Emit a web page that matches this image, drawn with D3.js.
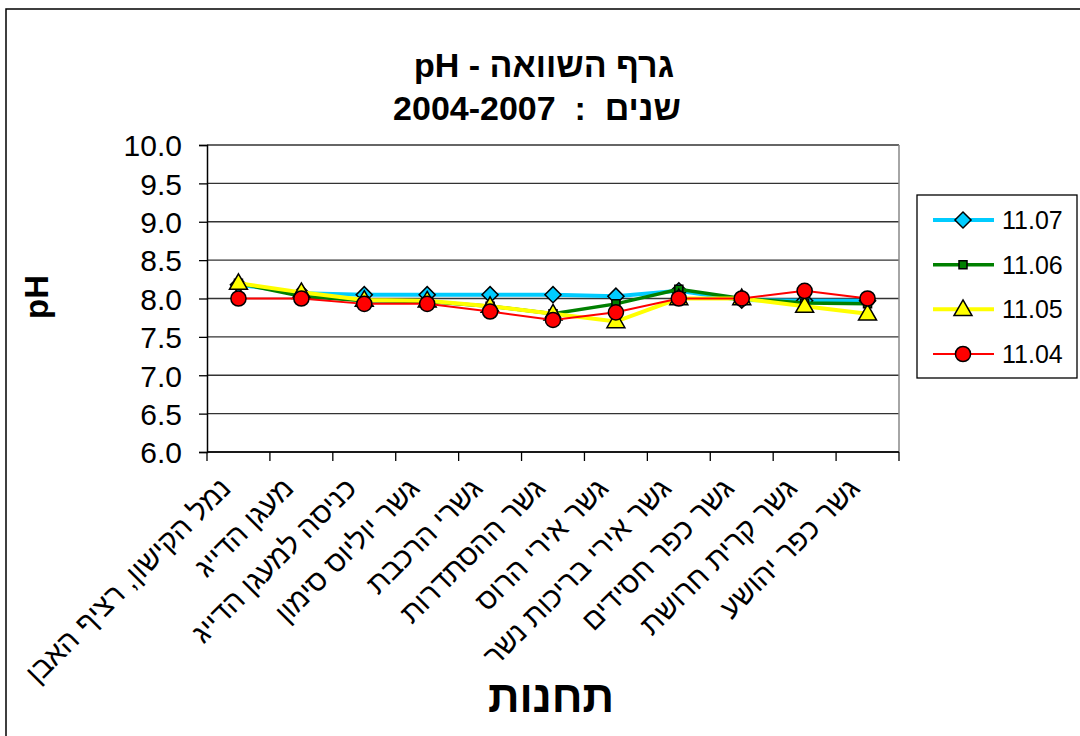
<!DOCTYPE html>
<html>
<head>
<meta charset="utf-8">
<script src="https://cdn.jsdelivr.net/npm/d3@7"></script>
<style>
  body { margin: 0; background: #fff; }
  svg { display: block; font-family: "Liberation Sans", Arial, sans-serif; }
</style>
</head>
<body>
<svg id="chart" width="1080" height="736"></svg>
<script>
"use strict";

let stations = ["נמל הקישון, רציף האבן", "מעגן הדייג", "כניסה למעגן הדייג", "גשר יוליוס סימון", "גשרי הרכבת",
    "גשר ההסתדרות", "גשר אירי הרוס", "גשר אירי בריכות נשר", "גשר כפר חסידים", "גשר קרית חרושת", "גשר כפר יהושע"];

let series_names = ["11.07", "11.06", "11.05", "11.04"];
let ph_1107 = [8.18, 8.07, 8.05, 8.05, 8.05, 8.05, 8.03, 8.10, 7.98, 7.97, 7.97];
let ph_1106 = [8.20, 8.03, 7.97, 7.96, 7.90, 7.80, 7.93, 8.12, 8.00, 7.94, 7.93];
let ph_1105 = [8.20, 8.08, 7.98, 7.97, 7.90, 7.80, 7.70, 8.00, 8.00, 7.90, 7.80];
let ph_1104 = [8.00, 8.00, 7.93, 7.93, 7.83, 7.72, 7.82, 8.00, 8.00, 8.10, 8.00];
let y_ticks = [6.0, 6.5, 7.0, 7.5, 8.0, 8.5, 9.0, 9.5, 10.0];

let series = [
    {name: series_names[0], values: ph_1107, color: "#00CCFF", width: 4, shape: "diamond"},
    {name: series_names[1], values: ph_1106, color: "#008000", width: 3.5, shape: "square"},
    {name: series_names[2], values: ph_1105, color: "#FFFF00", width: 4, shape: "triangle"},
    {name: series_names[3], values: ph_1104, color: "#FF0000", width: 2, shape: "circle"}
];

let svg = d3.select("#chart");

// outer frame (runs off the right / bottom edge like the original)
svg.append("rect").attr("x", 6).attr("y", 9).attr("width", 1100).attr("height", 760)
    .attr("fill", "#fff").attr("stroke", "#000").attr("stroke-width", 1.5);

let plot = {left: 207, right: 899, top: 145, bottom: 452};

let x = d3.scaleBand().domain(d3.range(stations.length)).range([plot.left, plot.right]);
let y = d3.scaleLinear().domain([6, 10]).range([plot.bottom, plot.top]);

// gridlines
svg.append("g").selectAll("line").data(y_ticks).join("line")
    .attr("x1", plot.left).attr("x2", plot.right)
    .attr("y1", d => y(d)).attr("y2", d => y(d))
    .attr("stroke", "#333").attr("stroke-width", 1.3);

// right border of plot area
svg.append("line").attr("x1", plot.right).attr("x2", plot.right)
    .attr("y1", plot.top).attr("y2", plot.bottom)
    .attr("stroke", "#888").attr("stroke-width", 1.5);

// y axis
let y_axis = svg.append("g").attr("transform", "translate(" + plot.left + ",0)")
    .call(d3.axisLeft(y).tickValues(y_ticks).tickFormat(d3.format(".1f")).tickSize(8).tickPadding(17));
y_axis.select(".domain").attr("stroke", "#000").attr("stroke-width", 1.5);
y_axis.selectAll(".tick line").attr("stroke", "#000").attr("stroke-width", 1.3);
y_axis.selectAll("text").attr("font-size", 30).attr("fill", "#000")
    .attr("font-family", "'Liberation Sans', Arial, sans-serif").attr("dy", "0.36em");

// x axis: ticks on the band boundaries
let boundaries = d3.range(stations.length + 1).map(i => plot.left + i * x.step());
svg.append("line").attr("x1", plot.left).attr("x2", plot.right)
    .attr("y1", plot.bottom).attr("y2", plot.bottom)
    .attr("stroke", "#000").attr("stroke-width", 1.5);
svg.append("g").selectAll("line").data(boundaries).join("line")
    .attr("x1", d => d).attr("x2", d => d)
    .attr("y1", plot.bottom).attr("y2", plot.bottom + 9)
    .attr("stroke", "#000").attr("stroke-width", 1.3);

// station labels, rotated 45 degrees
svg.append("g").selectAll("text").data(stations).join("text")
    .attr("transform", (d, i) => "translate(" + (x(i) + x.bandwidth() / 2 - 6) + ",490) rotate(-45)")
    .attr("text-anchor", "end")
    .attr("font-size", 29)
    .attr("fill", "#000")
    .text(d => d);

// lines and markers
let line = d3.line().x((d, i) => x(i) + x.bandwidth() / 2).y(d => y(d));

let symbols = {
    diamond: d3.symbol().type(d3.symbolSquare).size(130),
    square: d3.symbol().type(d3.symbolSquare).size(64),
    triangle: d3.symbol().type(d3.symbolTriangle).size(140),
    circle: d3.symbol().type(d3.symbolCircle).size(180)
};

function draw_marker(g, shape, color, cx, cy) {
    let p = g.append("path").attr("d", symbols[shape]())
        .attr("fill", color).attr("stroke", "#000").attr("stroke-width", 1.5);
    if (shape == "diamond") {
        p.attr("transform", "translate(" + cx + "," + cy + ") rotate(45)");
    } else if (shape == "triangle") {
        p.attr("transform", "translate(" + cx + "," + (cy + 1) + ")");
    } else {
        p.attr("transform", "translate(" + cx + "," + cy + ")");
    }
}

series.forEach(s => {
    let g = svg.append("g");
    g.append("path").datum(s.values).attr("d", line)
        .attr("fill", "none").attr("stroke", s.color).attr("stroke-width", s.width);
    s.values.forEach((v, i) => draw_marker(g, s.shape, s.color, x(i) + x.bandwidth() / 2, y(v)));
});

// legend
let legend = svg.append("g");
legend.append("rect").attr("x", 917).attr("y", 195).attr("width", 160).attr("height", 183)
    .attr("fill", "#fff").attr("stroke", "#000").attr("stroke-width", 1.3);
let legend_y = d3.scalePoint().domain(series_names).range([220, 354]);
series.forEach(s => {
    let ly = legend_y(s.name);
    legend.append("line").attr("x1", 933).attr("x2", 994).attr("y1", ly).attr("y2", ly)
        .attr("stroke", s.color).attr("stroke-width", s.width);
    draw_marker(legend, s.shape, s.color, 963, ly);
    legend.append("text").attr("x", 1002).attr("y", ly).attr("dy", "0.36em")
        .attr("font-size", 25).attr("fill", "#000").text(s.name);
});

// titles
svg.append("text").attr("x", 544).attr("y", 77).attr("text-anchor", "middle")
    .attr("direction", "rtl").attr("font-size", 34).attr("font-weight", "bold")
    .style("white-space", "pre")
    .text("גרף השוואה - pH");
svg.append("text").attr("x", 537).attr("y", 120).attr("text-anchor", "middle")
    .attr("direction", "rtl").attr("font-size", 34).attr("font-weight", "bold")
    .style("white-space", "pre")
    .text("שנים  :  2004-2007");

svg.append("text").attr("transform", "translate(48,297) rotate(-90)")
    .attr("text-anchor", "middle").attr("font-size", 33).attr("font-weight", "bold")
    .text("pH");

svg.append("text").attr("x", 551).attr("y", 712).attr("text-anchor", "middle")
    .attr("font-size", 44).attr("font-weight", "bold")
    .text("תחנות");
</script>
</body>
</html>
